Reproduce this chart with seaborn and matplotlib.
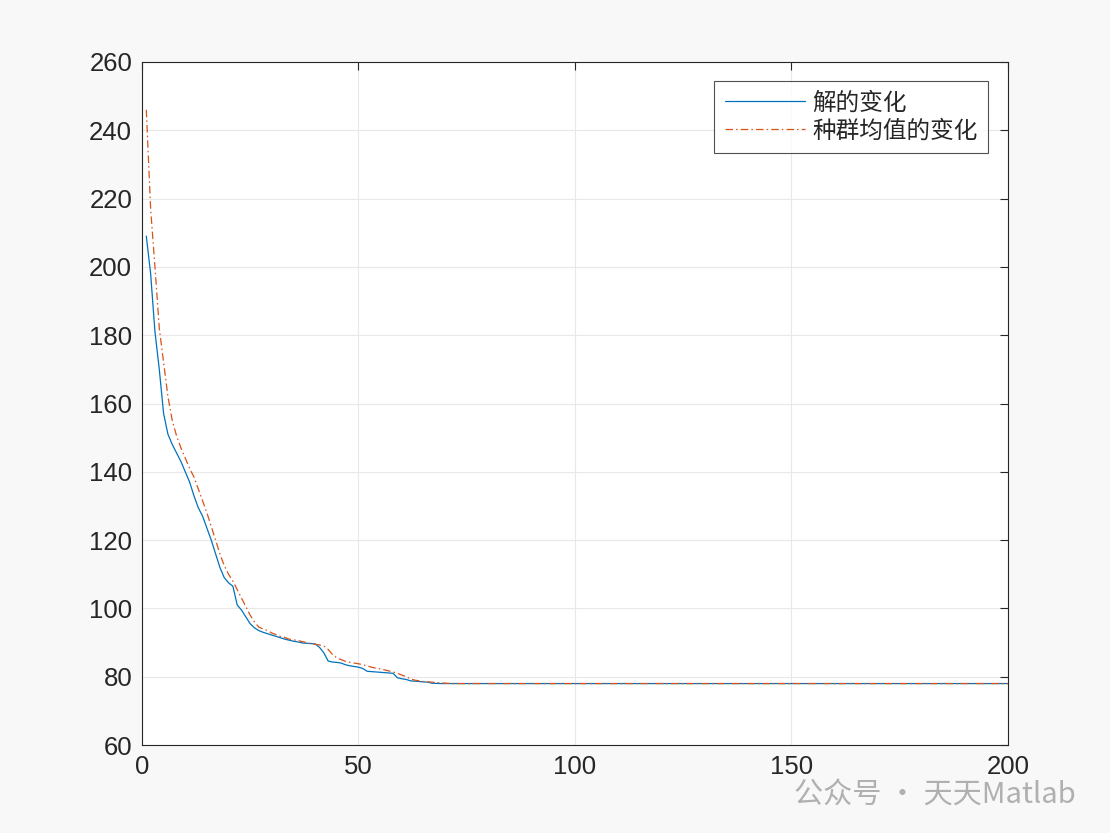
import numpy as np
import pandas as pd
import matplotlib
matplotlib.use('Agg')
import matplotlib.pyplot as plt
import seaborn as sns

# values, iterations 1..200
best_head = [209, 198, 181, 170, 157, 151, 148, 145.5, 143, 140,
             137, 133, 129.5, 127, 123.5, 120, 116, 112, 109, 107.5,
             106.5, 101, 99.5, 97.5, 95.5, 94.3, 93.5, 93, 92.6, 92.2,
             91.8, 91.4, 91, 90.7, 90.4, 90.2, 89.9, 89.8, 89.7, 89.6,
             88.6, 87, 84.6, 84.3, 84.2, 84, 83.5, 83.2, 83, 82.8,
             82.4, 81.6, 81.5, 81.4, 81.3, 81.2, 81.1, 81, 79.7, 79.4,
             79.2, 78.8, 78.7, 78.6, 78.5, 78.4, 78.1, 78.05]
mean_head = [246, 217, 200, 182, 172, 162, 155, 150.5, 147, 144,
             141, 138.5, 135, 131.5, 128, 124, 120, 116, 112.5, 110,
             108, 105.5, 103, 100.5, 98, 96, 94.5, 94, 93.5, 92.8,
             92.3, 91.8, 91.5, 91, 90.8, 90.6, 90.3, 90, 89.7, 89.5,
             89.3, 89, 88, 86.5, 85.5, 85, 84.5, 84.2, 84, 83.8,
             83.5, 83.2, 82.8, 82.5, 82.3, 82, 81.7, 81.4, 81, 80.5,
             80, 79.4, 79, 78.8, 78.6, 78.5, 78.4, 78.3, 78.2, 78.1,
             78.05]
final_value = 78.0
n_iter = 200

best = best_head + [final_value] * (n_iter - len(best_head))
pop_mean = mean_head + [final_value] * (n_iter - len(mean_head))
iters = list(range(1, n_iter + 1))

labels = ['解的变化', '种群均值的变化']
xticks = [0, 50, 100, 150, 200]
yticks = [60, 80, 100, 120, 140, 160, 180, 200, 220, 240, 260]

df = pd.DataFrame({'iter': iters, 'best': best, 'mean': pop_mean})

sns.set_style('white')
plt.rcParams['font.family'] = ['Liberation Sans', 'Noto Sans CJK SC', 'DejaVu Sans']

fig = plt.figure(figsize=(11.1, 8.33), dpi=100, facecolor='#f8f8f8')
ax = fig.add_axes([0.1279, 0.1056, 0.7802, 0.82])
ax.set_facecolor('white')

sns.lineplot(data=df, x='iter', y='best', ax=ax, color='#0072BD',
             linewidth=0.9, label=labels[0])
sns.lineplot(data=df, x='iter', y='mean', ax=ax, color='#D95319',
             linewidth=0.9, linestyle='-.', label=labels[1])
ax.lines[1].set_dashes([6, 2.5, 1.2, 2.5])

ax.set_xlim(0, 200)
ax.set_ylim(60, 260)
ax.set_xticks(xticks)
ax.set_yticks(yticks)
ax.set_xlabel('')
ax.set_ylabel('')
ax.grid(True, color='#e8e8e8', linewidth=0.8)
ax.tick_params(direction='in', length=6, width=0.8, labelsize=18.5,
               colors='#262626', top=True, right=True, pad=7)
for s in ax.spines.values():
    s.set_color('#262626')
    s.set_linewidth(0.8)

leg = ax.legend(loc='upper right', bbox_to_anchor=(0.977, 0.972),
                prop={'family': ['Noto Sans CJK SC'], 'size': 17},
                frameon=True, fancybox=False, handlelength=3.4,
                handletextpad=0.3, borderpad=0.45, labelspacing=0.2,
                borderaxespad=0)
leg.get_frame().set_edgecolor('#262626')
leg.get_frame().set_linewidth(0.8)

fig.text(0.969, 0.045, '公众号 · 天天Matlab', ha='right', va='center',
         fontsize=21, color='#b0b0b0',
         family=['Noto Sans CJK SC', 'DejaVu Sans'])

fig.savefig('out.png', dpi=100, facecolor=fig.get_facecolor())
